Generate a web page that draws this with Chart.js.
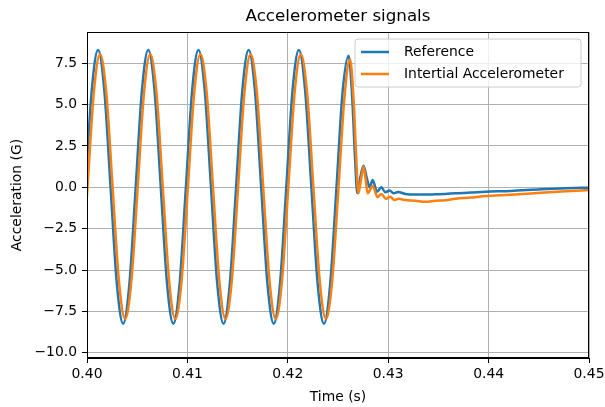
<!DOCTYPE html>
<html>
<head>
<meta charset="utf-8">
<script src="https://cdn.jsdelivr.net/npm/chart.js@4/dist/chart.umd.min.js"></script>
<style>
  html, body { margin: 0; padding: 0; background: #fff; }
  canvas { display: block; }
</style>
</head>
<body>
<canvas id="chart" width="605" height="407"></canvas>
<script>
// values
const refTime = [
  0.399225, 0.39985, 0.400475, 0.4011, 0.401725, 0.40235, 0.402975, 0.4036, 0.404225,
  0.40485, 0.405475, 0.4061, 0.406725, 0.40735, 0.407975, 0.4086, 0.409225,
  0.40985, 0.410475, 0.4111, 0.411725, 0.41235, 0.412975, 0.4136, 0.414225,
  0.41485, 0.415475, 0.4161, 0.416725, 0.41735, 0.417975, 0.4186, 0.419225,
  0.41985, 0.420475, 0.4211, 0.421725, 0.42235, 0.422975, 0.4236, 0.424225,
  0.42485, 0.42545, 0.42605, 0.4264, 0.42668, 0.42692, 0.42722, 0.42755, 0.42785,
  0.42815, 0.42845, 0.42889, 0.42932, 0.42971, 0.43014, 0.43054, 0.43098, 0.43171,
  0.43271, 0.43371, 0.43471, 0.4357, 0.4367, 0.4382, 0.4397, 0.4422, 0.4452, 0.4477, 0.45
];
const refAccel = [
  -5.84, 0, 5.87, 8.3, 5.87, 0, -5.84, -8.25, -5.84,
  0, 5.87, 8.3, 5.87, 0, -5.84, -8.25, -5.84,
  0, 5.87, 8.3, 5.87, 0, -5.84, -8.25, -5.84,
  0, 5.87, 8.3, 5.87, 0, -5.84, -8.25, -5.84,
  0, 5.87, 8.3, 5.87, 0, -5.84, -8.25, -5.84,
  0, 5.7, 7.95, 5.6, 2.0, -0.35, 0.6, 1.3, 0.6,
  0.0, 0.44, -0.27, 0.0, -0.3, -0.2, -0.36, -0.28, -0.4,
  -0.44, -0.44, -0.42, -0.4, -0.36, -0.32, -0.27, -0.22, -0.12, -0.06, -0.02
];

const accTime = [
  0.399425, 0.40005, 0.400675, 0.4013, 0.401925, 0.40255, 0.403175, 0.4038, 0.404425,
  0.40505, 0.405675, 0.4063, 0.406925, 0.40755, 0.408175, 0.4088, 0.409425,
  0.41005, 0.410675, 0.4113, 0.411925, 0.41255, 0.413175, 0.4138, 0.414425,
  0.41505, 0.415675, 0.4163, 0.416925, 0.41755, 0.418175, 0.4188, 0.419425,
  0.42005, 0.420675, 0.4213, 0.421925, 0.42255, 0.423175, 0.4238, 0.424425,
  0.42505, 0.42565, 0.4262, 0.42655, 0.4268, 0.42703, 0.4273, 0.42755, 0.42775,
  0.42795, 0.42845, 0.42895, 0.42932, 0.42978, 0.43021, 0.43061, 0.43104, 0.43171,
  0.43271, 0.43371, 0.43471, 0.4357, 0.4367, 0.4382, 0.4397, 0.4422, 0.4452, 0.4477, 0.45
];
const accAccel = [
  -5.62, 0, 5.69, 8.05, 5.69, 0, -5.62, -7.95, -5.62,
  0, 5.69, 8.05, 5.69, 0, -5.62, -7.95, -5.62,
  0, 5.69, 8.05, 5.69, 0, -5.62, -7.95, -5.62,
  0, 5.69, 8.05, 5.69, 0, -5.62, -7.95, -5.62,
  0, 5.69, 8.05, 5.69, 0, -5.62, -7.95, -5.62,
  0, 5.5, 7.75, 5.3, 2.0, -0.36, 0.5, 1.25, 0.5,
  -0.36, 0.08, -0.6, -0.4, -0.7, -0.57, -0.77, -0.69, -0.77,
  -0.81, -0.87, -0.81, -0.78, -0.69, -0.62, -0.53, -0.45, -0.33, -0.24, -0.17
];

const xTicks = [0.40, 0.41, 0.42, 0.43, 0.44, 0.45];
const xTickLabels = ['0.40', '0.41', '0.42', '0.43', '0.44', '0.45'];
const yTicks = [-10, -7.5, -5, -2.5, 0, 2.5, 5, 7.5];
const yTickLabels = ['\u221210.0', '\u22127.5', '\u22125.0', '\u22122.5', '0.0', '2.5', '5.0', '7.5'];

const seriesNames = ['Reference', 'Intertial Accelerometer'];
const seriesColors = ['#1f77b4', '#ff7f0e'];

const FONT = 'DejaVu Sans';
Chart.defaults.color = '#000';
Chart.defaults.font.family = FONT;

function toPoints(xs, ys) {
  return xs.map((x, i) => ({ x: x, y: ys[i] }));
}

// title, full frame and legend the way matplotlib draws them
const decorations = {
  id: 'decorations',
  afterDatasetsDraw(chart) {
    const { ctx, chartArea: a } = chart;
    ctx.save();
    ctx.strokeStyle = '#000';
    ctx.lineWidth = 1;
    ctx.strokeRect(a.left + 0.5, a.top + 0.5, a.right - a.left - 1, a.bottom - a.top - 1);
    ctx.restore();
  },
  afterDraw(chart) {
    const { ctx, chartArea: a } = chart;
    ctx.save();
    ctx.fillStyle = '#000';
    ctx.font = '16.7px "' + FONT + '"';
    ctx.textAlign = 'center';
    ctx.textBaseline = 'middle';
    ctx.fillText('Accelerometer signals', (a.left + a.right) / 2, 17);

    // legend box
    const bx = 355, by = 39, bw = 226, bh = 48, r = 3;
    ctx.beginPath();
    ctx.moveTo(bx + r, by);
    ctx.arcTo(bx + bw, by, bx + bw, by + bh, r);
    ctx.arcTo(bx + bw, by + bh, bx, by + bh, r);
    ctx.arcTo(bx, by + bh, bx, by, r);
    ctx.arcTo(bx, by, bx + bw, by, r);
    ctx.closePath();
    ctx.fillStyle = 'rgba(255,255,255,0.8)';
    ctx.fill();
    ctx.strokeStyle = '#cccccc';
    ctx.lineWidth = 1;
    ctx.stroke();

    ctx.font = '13.9px "' + FONT + '"';
    ctx.textAlign = 'left';
    seriesNames.forEach((name, i) => {
      const y = 52 + i * 22;
      ctx.strokeStyle = seriesColors[i];
      ctx.lineWidth = 2.5;
      ctx.beginPath();
      ctx.moveTo(361, y);
      ctx.lineTo(389, y);
      ctx.stroke();
      ctx.fillStyle = '#000';
      ctx.fillText(name, 404, y);
    });
    ctx.restore();
  }
};

new Chart(document.getElementById('chart'), {
  type: 'line',
  data: {
    datasets: [{
      label: seriesNames[0],
      data: toPoints(refTime, refAccel),
      borderColor: seriesColors[0],
      borderWidth: 2.5,
      pointRadius: 0,
      cubicInterpolationMode: 'monotone',
      order: 1
    }, {
      label: seriesNames[1],
      data: toPoints(accTime, accAccel),
      borderColor: seriesColors[1],
      borderWidth: 2.5,
      pointRadius: 0,
      cubicInterpolationMode: 'monotone',
      order: 0
    }]
  },
  options: {
    responsive: false,
    animation: false,
    layout: { padding: { top: 32, right: 16, left: 0, bottom: 0 } },
    plugins: {
      legend: { display: false },
      tooltip: { enabled: false }
    },
    scales: {
      x: {
        type: 'linear',
        min: 0.40,
        max: 0.45,
        afterBuildTicks: s => { s.ticks = xTicks.map(v => ({ value: v })); },
        afterFit: s => { s.height = 49; s.paddingLeft = 0; s.paddingRight = 0; },
        ticks: {
          callback: (v, i) => xTickLabels[i],
          font: { size: 13.9 },
          padding: 3,
          maxRotation: 0,
          autoSkip: false
        },
        grid: { color: '#b0b0b0', lineWidth: 1, tickColor: '#000', tickLength: 5, tickWidth: 1 },
        border: { display: true, color: '#000', width: 1 },
        title: { display: true, text: 'Time (s)', font: { size: 13.9 }, padding: { top: 0, bottom: 1.5 } }
      },
      y: {
        min: -10.32,
        max: 9.39,
        afterBuildTicks: s => { s.ticks = yTicks.map(v => ({ value: v })); },
        afterFit: s => { s.width = 87; },
        ticks: {
          callback: (v, i) => yTickLabels[i],
          font: { size: 13.9 },
          padding: 5,
          autoSkip: false
        },
        grid: { color: '#b0b0b0', lineWidth: 1, tickColor: '#000', tickLength: 5, tickWidth: 1 },
        border: { display: true, color: '#000', width: 1 },
        title: { display: true, text: 'Acceleration (G)', font: { size: 13.9 }, padding: { top: 9.5, bottom: 0 } }
      }
    }
  },
  plugins: [decorations]
});
</script>
</body>
</html>
